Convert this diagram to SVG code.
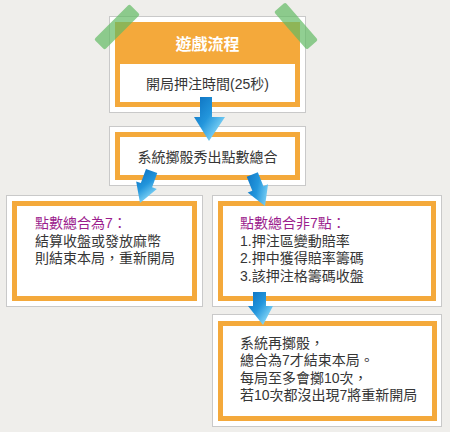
<svg xmlns="http://www.w3.org/2000/svg" width="450" height="432" viewBox="0 0 450 432">
<defs>
<linearGradient id="ag" x1="0" y1="0" x2="1" y2="1">
<stop offset="0" stop-color="#0b6fbf"/>
<stop offset="0.45" stop-color="#2396dc"/>
<stop offset="0.8" stop-color="#7fd3f6"/>
<stop offset="1" stop-color="#e2f8ff"/>
</linearGradient>
<style>
.outer{fill:#ffffff;stroke:#c9c9c9;stroke-width:1}
.ob{fill:#ffffff;stroke:#f4a93b;stroke-width:5}
.t{font-family:"Liberation Sans","Noto Sans CJK TC","Noto Sans CJK SC",sans-serif;font-size:14px;fill:#363636}
.p{fill:#9b1d8d}
.arrow{fill:url(#ag)}
.tape{fill:#62bb64;opacity:0.7}
</style>
</defs>
<rect width="450" height="432" fill="#efeeeb"/>

<g id="node-start">
<rect class="outer" x="109.5" y="16.5" width="196" height="96"/>
<rect x="115" y="22" width="185" height="85" fill="#f4a93b"/>
<rect x="120" y="64" width="175" height="38" fill="#ffffff"/>
<text class="t" x="207.5" y="50" text-anchor="middle" style="font-size:16px;font-weight:bold;fill:#ffffff">遊戲流程</text>
<text class="t" x="207.5" y="89" text-anchor="middle">開局押注時間(25秒)</text>
</g>

<g id="node-roll">
<rect class="outer" x="109.5" y="126.5" width="196" height="59"/>
<rect class="ob" x="117.5" y="134.5" width="180" height="43"/>
<text class="t" x="207.5" y="162" text-anchor="middle">系統擲骰秀出點數總合</text>
</g>

<g id="node-seven">
<rect class="outer" x="6.5" y="195.5" width="196" height="111"/>
<rect class="ob" x="14.5" y="203.5" width="180" height="95"/>
<text class="t p" x="35" y="228">點數總合為7：</text>
<text class="t" x="35" y="245.5">結算收盤或發放麻幣</text>
<text class="t" x="35" y="263">則結束本局，重新開局</text>
</g>

<g id="node-notseven">
<rect class="outer" x="212.5" y="195.5" width="229" height="111"/>
<rect class="ob" x="220.5" y="203.5" width="213" height="95"/>
<text class="t p" x="240" y="228">點數總合非7點：</text>
<text class="t" x="240" y="245.5">1.押注區變動賠率</text>
<text class="t" x="240" y="263">2.押中獲得賠率籌碼</text>
<text class="t" x="240" y="280.5">3.該押注格籌碼收盤</text>
</g>

<g id="node-reroll">
<rect class="outer" x="212.5" y="314.5" width="229" height="112"/>
<rect class="ob" x="220.5" y="323.5" width="214" height="95"/>
<text class="t" x="240" y="348">系統再擲骰，</text>
<text class="t" x="240" y="365">總合為7才結束本局。</text>
<text class="t" x="240" y="382.5">每局至多會擲10次，</text>
<text class="t" x="240" y="400">若10次都沒出現7將重新開局</text>
</g>

<g id="connectors">
<path class="arrow" d="M200,97 L212,97 L212,117 L225,117 L209,141 L194,117 L200,117 Z"/>
<path class="arrow" transform="translate(140,203) rotate(20)" d="M-6,-34 L6,-34 L6,-19 L11,-19 L0,0 L-11,-19 L-6,-19 Z"/>
<path class="arrow" transform="translate(265,206) rotate(-22)" d="M-6,-34 L6,-34 L6,-19 L11,-19 L0,0 L-11,-19 L-6,-19 Z"/>
<path class="arrow" d="M253,292 L266,292 L266,306 L273,306 L263,325 L248,306 L253,306 Z"/>
</g>

<g id="tapes">
<rect class="tape" x="-25" y="-7.5" width="50" height="15" rx="2" transform="translate(117,27) rotate(-45)"/>
<rect class="tape" x="-25" y="-7.5" width="50" height="15" rx="2" transform="translate(296,26) rotate(49)"/>
</g>
</svg>
